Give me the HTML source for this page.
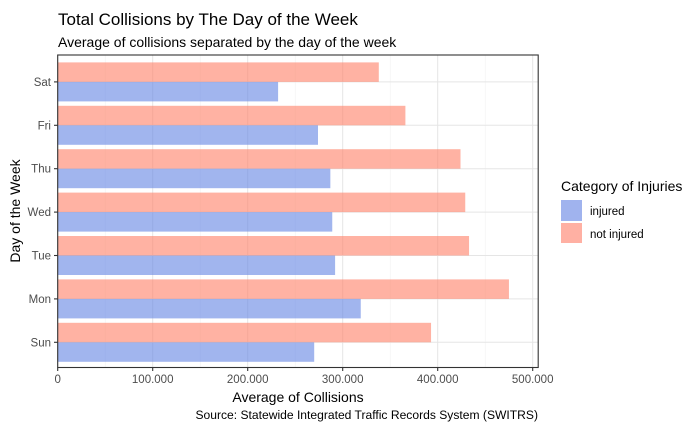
<!DOCTYPE html>
<html><head><meta charset="utf-8">
<style>
html,body{margin:0;padding:0;background:#fff;}
svg text{font-family:"Liberation Sans",Arial,sans-serif;}
</style></head>
<body>
<svg id="chart" width="700" height="432" xmlns="http://www.w3.org/2000/svg">
<rect width="700" height="432" fill="#fff"/>
<text x="58" y="25" font-size="17" fill="#000">Total Collisions by The Day of the Week</text>
<text x="58" y="47" font-size="14" fill="#000">Average of collisions separated by the day of the week</text>
<g id="grid"></g>
<g id="bars"></g>
<rect x="57.7" y="55" width="480.5" height="312.5" fill="none" stroke="#333" stroke-width="1.1"/>
<g id="axes"></g>
<text x="298" y="402" font-size="14" text-anchor="middle" fill="#000">Average of Collisions</text>
<text transform="translate(20,211) rotate(-90)" font-size="14" text-anchor="middle" fill="#000">Day of the Week</text>
<text x="538" y="419" font-size="12.1" text-anchor="end" fill="#000">Source: Statewide Integrated Traffic Records System (SWITRS)</text>
<text x="561" y="191" font-size="14" fill="#000">Category of Injuries</text>
<rect x="561" y="200" width="21" height="21" fill="#a0b3ee"/>
<text x="590" y="215" font-size="11.5" fill="#000">injured</text>
<rect x="561" y="223" width="21" height="20" fill="#ffb0a3"/>
<text x="590" y="238" font-size="11.5" fill="#000">not injured</text>
</svg>
<script>
const days = ["Sun","Mon","Tue","Wed","Thu","Fri","Sat"];
const injured = [270000,319000,292000,289000,287000,274000,232000];
const notInjured = [393000,475000,433000,429000,424000,366000,338000];
const xTicks = [0,100000,200000,300000,400000,500000];
const xTickLabels = ["0","100.000","200.000","300.000","400.000","500.000"];

const NS="http://www.w3.org/2000/svg";
const x0=57.7, pxPer=95/100000;
const xs=v=>x0+v*pxPer;
const ySun=342.3, step=43.4;
const yc=i=>ySun-i*step;
const half=19.5;
function mk(tag,attrs,parent){const e=document.createElementNS(NS,tag);for(const k in attrs)e.setAttribute(k,attrs[k]);parent.appendChild(e);return e;}
const grid=document.getElementById('grid'), bars=document.getElementById('bars'), axes=document.getElementById('axes');
for(let i=0;i<xTicks.length;i++){
  const minor=xTicks[i]+50000;
  if(xs(minor)<538){const m=mk('line',{x1:xs(minor),x2:xs(minor),y1:55,y2:367.5,stroke:'#f2f2f2','stroke-width':0.6},grid);
  
  }
  const g=mk('line',{x1:xs(xTicks[i]),x2:xs(xTicks[i]),y1:55,y2:367.5,stroke:'#e5e5e5','stroke-width':1},grid);
  
  
  const t=mk('line',{x1:xs(xTicks[i]),x2:xs(xTicks[i]),y1:367.5,y2:371,stroke:'#333','stroke-width':1.1},axes);
  
  
  const l=mk('text',{x:xs(xTicks[i]),y:383,'font-size':11.5,'text-anchor':'middle',fill:'#4d4d4d'},axes);
  l.textContent=xTickLabels[i];
  
  
}
for(let i=0;i<days.length;i++){
  const y=yc(i);
  const g=mk('line',{x1:57.7,x2:538,y1:y,y2:y,stroke:'#e5e5e5','stroke-width':1},grid);
  
  
  const p=mk('rect',{x:x0,y:y-half,width:xs(notInjured[i])-x0,height:half,fill:'#ff7f66','fill-opacity':0.6},bars);
  
  
  const b=mk('rect',{x:x0,y:y,width:xs(injured[i])-x0,height:half,fill:'#6283e3','fill-opacity':0.6},bars);
  
  
  const t=mk('line',{x1:54,x2:57.7,y1:y,y2:y,stroke:'#333','stroke-width':1.1},axes);
  
  
  const l=mk('text',{x:51,y:y+4,'font-size':11.5,'text-anchor':'end',fill:'#4d4d4d'},axes);
  l.textContent=days[i];
  
  
}
</script>
</body></html>
